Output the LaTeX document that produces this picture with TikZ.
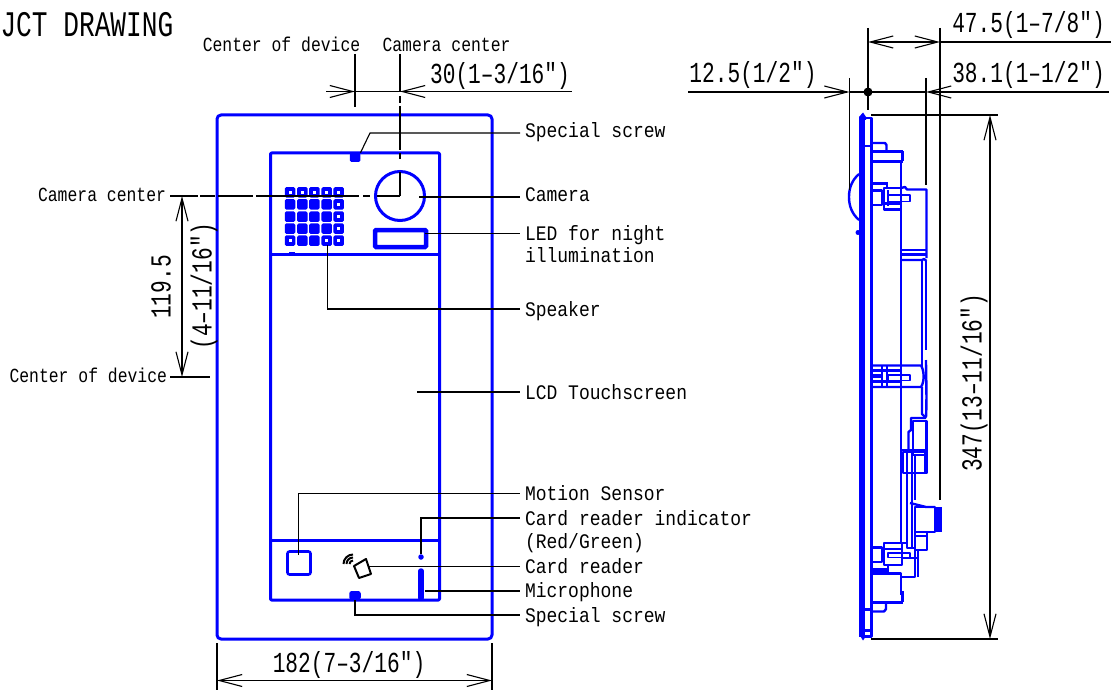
\documentclass[tikz,border=0pt]{standalone}
\usepackage{fontspec}
\usepackage{xcolor}
\usetikzlibrary{arrows.meta,calc}

\newfontfamily\smallgothic[FakeStretch=0.82]{Liberation Mono}
\newfontfamily\partgothic[FakeStretch=0.87]{Liberation Mono}
\newfontfamily\dimgothic[FakeStretch=0.73]{Liberation Mono}
\newfontfamily\titlegothic[FakeStretch=0.727]{Liberation Mono}

\definecolor{devblue}{RGB}{0,0,255}

\tikzset{
	shell/.style={draw=devblue,line width=3pt,line join=round},
	side/.style={draw=devblue,line width=2.4pt,line join=round},
	sidethick/.style={draw=devblue,line width=3.6pt,line join=round},
	leader/.style={draw=black,line width=1.1pt},
	dimline/.style={draw=black,line width=1.1pt,>={Straight Barb[length=23pt,width=12pt,line width=1.1pt]}},
	partname/.style={font=\fontsize{20.7pt}{20.7pt}\partgothic,inner sep=0pt,outer xsep=5pt,anchor=west,text height=14pt,text depth=0pt},
	refname/.style={font=\fontsize{20pt}{20pt}\smallgothic,inner sep=0pt,text height=13pt,text depth=0pt},
	dimtext/.style={font=\fontsize{29pt}{29pt}\dimgothic,inner sep=0pt,text height=19pt,text depth=0pt},
	grille/.style={rectangle,rounded corners=1.5pt,fill=devblue,inner sep=0pt,minimum size=10.5pt},
	grillehole/.style={rectangle,fill=white,inner sep=0pt,minimum size=3pt},
}

\begin{document}
\begin{tikzpicture}[x=1pt,y=-1pt]

\useasboundingbox (0,0) rectangle (1111,690);
\fill[white] (0,0) rectangle (1111,690);

\node[font=\fontsize{36pt}{36pt}\titlegothic,inner sep=0pt,anchor=east,text height=25pt,text depth=0pt] (title) at (173.5,24) {JCT DRAWING};

% front view
\draw[shell,rounded corners=4pt] (217,115) rectangle (492,639);
\draw[shell,rounded corners=1pt] (270.5,153) rectangle (439.5,600);
\draw[shell] (270.5,254) -- (439.5,254);
\draw[shell] (270.5,540) -- (439.5,540);
\draw[shell,line width=1.8pt] (289,253) -- (295,253);

\node[circle,draw=devblue,line width=3pt,inner sep=0pt,minimum size=49pt] (camera) at (400,196) {};
\node[rectangle,draw=devblue,line width=4.5pt,rounded corners=1pt,inner sep=0pt,minimum width=51pt,minimum height=17pt] (led) at (400.5,238.5) {};
\node[rectangle,fill=devblue,rounded corners=1.5pt,inner sep=0pt,minimum width=10.5pt,minimum height=9pt] (screwtop) at (355,157.5) {};
\node[rectangle,fill=devblue,rounded corners=2.5pt,inner sep=0pt,minimum width=11.5pt,minimum height=9pt] (screwbot) at (355,595.5) {};
\node[rectangle,draw=devblue,line width=2.6pt,rounded corners=2pt,inner sep=0pt,minimum size=23pt] (sensor) at (299,563) {};
\node[circle,fill=devblue,inner sep=0pt,minimum size=5.5pt] (indicator) at (421,557) {};
\draw[devblue,line width=5.5pt,line cap=round] (421,571) -- (421,598);

\foreach \x in {290,302.3,314.3,326.7,338.7}
{
	\foreach \y in {192.3,204.3,216.7,228.7,240.7}
	{
		\node[grille] at (\x,\y) {};
	}
}
\foreach \x/\y in {290/192.3,302.3/192.3,314.3/192.3,326.7/192.3,338.7/192.3,338.7/204.3,338.7/216.7,338.7/228.7,290/240.7,326.7/240.7,338.7/240.7}
{
	\node[grillehole] at (\x,\y) {};
}

% card reader
\draw[black,line width=2pt,line join=round] (354,566) -- (366,559) -- (371,574) -- (359,578) -- cycle;
\foreach \r in {3.5,6.5,9.5}
{
	\draw[black,line width=2pt] (353-\r,564) .. controls (353-\r,564-0.55*\r) and (353-0.55*\r,564-\r) .. (353,564-\r);
}

% names of the parts
\node[partname] (lblscrewtop) at (520,131) {Special screw};
\node[partname] (lblcamera) at (520,194) {Camera};
\node[partname] (lblled) at (520,233) {LED for night};
\node[partname] (lblled2) at (520,255) {illumination};
\node[partname] (lblspeaker) at (520,309) {Speaker};
\node[partname] (lbllcd) at (520,392) {LCD Touchscreen};
\node[partname] (lblsensor) at (520,493.5) {Motion Sensor};
\node[partname] (lblindicator) at (520,518) {Card reader indicator};
\node[partname] (lblindicator2) at (520,541) {(Red/Green)};
\node[partname] (lblreader) at (520,566) {Card reader};
\node[partname] (lblmic) at (520,590) {Microphone};
\node[partname] (lblscrewbot) at (520,615) {Special screw};

\coordinate (kneetop) at (370,133);
\coordinate (camright) at (419,197);
\coordinate (ledright) at (425,233.5);
\coordinate (speakerpt) at (327.5,245);
\coordinate (lcdpt) at (417,392);
\coordinate (sensorpt) at (298.5,555);
\coordinate (readerpt) at (368,566.5);
\coordinate (micpt) at (425,591);

\draw[leader] (screwtop.north east) -- (kneetop) -- (kneetop -| lblscrewtop.west);
\draw[leader] (camright) -- (camright -| lblcamera.west);
\draw[leader] (ledright) -- (ledright -| lblled.west);
\draw[leader] (speakerpt) |- (lblspeaker.west);
\draw[leader] (lcdpt) -- (lbllcd.west);
\draw[leader] (sensorpt) |- (lblsensor.west);
\draw[leader] (indicator) |- (lblindicator.west);
\draw[leader] (readerpt) -- (readerpt -| lblreader.west);
\draw[leader] (micpt) -- (micpt -| lblmic.west);
\draw[leader] (screwbot) |- (lblscrewbot.west);

% centre lines
\node[refname,anchor=east,outer xsep=4pt] (lblcamleft) at (170,195) {Camera center};
\node[refname,anchor=east,outer xsep=3pt] (lbldevleft) at (170,376) {Center of device};
\node[refname] (lbldevtop) at (281.5,45) {Center of device};
\node[refname] (lblcamtop) at (446.5,45) {Camera center};

\coordinate (camleftA) at (198,196);
\coordinate (camleftB) at (400,196);
\coordinate (devleftA) at (210,377);
\coordinate (camtopA) at (400,54);
\coordinate (camtopB) at (400,92);
\coordinate (devtopA) at (355,54);
\coordinate (devtopB) at (355,107);

\draw[leader] (camleftA -| lblcamleft.east) -- (camleftA);
\draw[leader,dash pattern=on 0pt off 2pt on 15pt off 3pt on 35pt off 3pt on 103pt off 4pt on 7pt off 7pt on 23pt off 10pt] (camleftA) -- (camleftB);
\draw[leader] (devleftA -| lbldevleft.east) -- (devleftA);
\draw[leader] (camtopA) -- (camtopB);
\draw[leader,dash pattern=on 0pt off 4pt on 7pt off 3pt on 44pt off 3pt on 6pt off 13pt on 24pt off 10pt] (camtopB) -- (camleftB);
\draw[leader] (devtopA) -- (devtopB);

% 119.5 dimension
\coordinate (vdimA) at (182,196);
\coordinate (vdimB) at (182,377);
\draw[dimline,<->] (vdimA) -- (vdimB);
\node[dimtext,rotate=90] (txtmm) at (161,287) {119.5};
\node[dimtext,rotate=90] (txtin) at (202,286) {(4–11/16″)};

% 30 dimension
\coordinate (hdimL) at (326,91.5);
\coordinate (hdimC) at (355,91.5);
\coordinate (hdimD) at (400,91.5);
\coordinate (hdimR) at (572,91.5);
\draw[dimline,->] (hdimL) -- (hdimC);
\draw[dimline] (hdimC) -- (hdimD);
\draw[dimline,<-] (hdimD) -- (hdimR);
\node[dimtext] (txtoffset) at (500,74) {30(1–3/16″)};

% 182 dimension
\coordinate (wextL) at (217,643);
\coordinate (wextLb) at (217,690);
\coordinate (wextR) at (492,643);
\coordinate (wextRb) at (492,690);
\coordinate (wdimL) at (217,680.5);
\coordinate (wdimR) at (492,680.5);
\draw[leader] (wextL) -- (wextLb);
\draw[leader] (wextR) -- (wextRb);
\draw[dimline,<->] (wdimL) -- (wdimR);
\node[dimtext] (txtwidth) at (349,663) {182(7–3/16″)};

% side view, plate
\draw[side,line width=6pt] (862,117) -- (862,637);
\fill[devblue] (859,117) -- (863,112.5) -- (866,117) -- (866,120) -- (859,120) -- cycle;
\fill[devblue] (859,634) -- (863,640.5) -- (866,636) -- cycle;
\draw[side] (863,118) -- (871.5,118) -- (871.5,636.5) -- (863,636.5);
\draw[side] (865,630.5) -- (871.5,630.5);
\draw[side] (865,609.5) -- (871.5,609.5);
\draw[side] (859,174) .. controls (852,180) and (849,188) .. (849,197) .. controls (849,206) and (852,214) .. (859,220);
\fill[devblue] (858,232.5) circle (2.5pt);
\draw[side] (865,146) -- (871.5,146);

% side view, upper part
\draw[side] (871.5,143) -- (885,143) -- (886.5,145) -- (886.5,151);
\draw[side] (871.5,151.5) -- (902.5,151.5);
\draw[sidethick] (873,161.5) -- (902.5,161.5);
\draw[sidethick] (902.5,151.5) -- (902.5,161.5);
\draw[side] (901,162) -- (901,543);
\draw[sidethick] (871.5,183.5) -- (887,183.5);
\draw[side] (871.5,190.5) -- (882,190.5) -- (882,205) -- (871.5,205);
\draw[side] (887,182) -- (887,189);
\draw[side] (884,188) rectangle (901,209.5);
\draw[side] (884,203.5) -- (901,203.5);
\draw[side,line width=1.8pt] (888,195) rectangle (910,201.5);
\draw[side] (888,190) -- (888,206);
\draw[side] (901,188) -- (905,187) -- (907,189.5) -- (926.5,189.5) -- (926.5,258);
\draw[side] (901,250) -- (926.5,250);
\draw[side] (901,254.5) -- (926.5,254.5);
\draw[side] (901,260) -- (922,260) -- (924,259) -- (926.5,261);
\draw[side] (922,260) -- (922,366);
\draw[side] (926,261) -- (926,330);

% side view, middle part
\draw[side] (871.5,365.5) -- (921,365.5) .. controls (924,370) and (925,381) .. (921,387) -- (871.5,387);
\draw[side] (871.5,370.5) -- (901,370.5);
\draw[side] (871.5,381.5) -- (901,381.5);
\draw[sidethick] (871.5,376) -- (882,376);
\draw[side,line width=1.8pt] (888,375) rectangle (910,380.5);
\draw[side] (882,366) -- (882,387);
\draw[side] (887,366) -- (887,387);
\draw[side] (922,387) -- (922,414) -- (926,418);
\draw[side] (926,330) -- (926,350);
\draw[side] (926,360) .. controls (926,372) and (927,400) .. (926,417);

% side view, lower part
\draw[side] (926,418) -- (911,418) -- (911,430) -- (908.5,432) -- (908.5,450);
\draw[side] (913,421) rectangle (926.5,455);
\draw[side] (901,450) -- (927,450);
\draw[side] (903,452) rectangle (927,473);
\draw[side] (907,452) -- (907,500);
\draw[side] (912,452) -- (912,500);
\draw[side] (915,455) -- (915,473);
\draw[side] (925,452) -- (925,473);
\draw[side] (907,473) -- (927,473);
\draw[side] (912,473) -- (912,503);
\draw[side] (915,473) -- (915,500);
\draw[side] (907,500) -- (907,548) -- (915,548);
\draw[side] (912,503) -- (912,548);
\draw[side] (910,503) -- (926,507) -- (935,507);
\draw[side] (915,507) rectangle (935,532);
\fill[devblue] (934,507) rectangle (942,532);
\draw[side] (915,532) rectangle (927,550);
\draw[side] (915,536) -- (927,536);
\draw[side] (915,550) -- (915,577) -- (902,577);
\draw[side] (918,550) -- (918,577);
\draw[side] (902,558) -- (918,558);
\draw[side] (884,543) -- (907,543);
\draw[side] (884,543) rectangle (902,565);
\draw[side] (884,549) -- (902,549);
\draw[side,line width=1.8pt] (888,553) rectangle (910,557.5);
\draw[side] (871.5,547.5) -- (882,547.5) -- (882,562) -- (871.5,562);
\draw[sidethick] (871.5,570) -- (888,570);
\draw[side] (888,564) -- (888,572);
\draw[side] (871.5,573.5) -- (901,573.5) -- (901,595);
\draw[sidethick] (873,602.5) -- (903,602.5);
\draw[sidethick] (902.5,591) -- (902.5,602);
\draw[side] (886,603) -- (886,609) -- (884,611.5) -- (871.5,611.5);

% side view, dimensions
\coordinate (extfrontA) at (868,28);
\coordinate (extfrontB) at (868,110);
\coordinate (extbackA) at (940,28);
\coordinate (extbackB) at (940,500);
\coordinate (extplateA) at (849.5,78);
\coordinate (extplateB) at (849.5,190);
\coordinate (extboxA) at (926,78);
\coordinate (extboxB) at (926,185);
\draw[leader] (extfrontA) -- (extfrontB);
\draw[leader] (extbackA) -- (extbackB);
\draw[leader] (extplateA) -- (extplateB);
\draw[leader] (extboxA) -- (extboxB);

\coordinate (topdimA) at (868,42);
\coordinate (topdimB) at (940,42);
\coordinate (topdimC) at (1111,42);
\draw[dimline,<->] (topdimA) -- (topdimB);
\draw[dimline] (topdimB) -- (topdimC);
\node[dimtext] (txtdepth) at (1028.5,23) {47.5(1–7/8″)};

\coordinate (middimA) at (688,92);
\coordinate (middimB) at (849.5,92);
\coordinate (middimC) at (926,92);
\coordinate (middimD) at (1109,92);
\node[circle,fill=black,inner sep=0pt,minimum size=9pt] (refdot) at (868,92) {};
\draw[dimline,->] (middimA) -- (middimB);
\draw[dimline] (middimB) -- (middimC);
\draw[dimline,<-] (middimC) -- (middimD);
\node[dimtext] (txtdome) at (753,73) {12.5(1/2″)};
\node[dimtext] (txtbody) at (1028.5,73) {38.1(1–1/2″)};

\coordinate (htopA) at (871,115);
\coordinate (htopB) at (998,115);
\coordinate (hbotA) at (871,639);
\coordinate (hbotB) at (998,639);
\coordinate (hdimT) at (990,115);
\coordinate (hdimE) at (990,639);
\draw[leader] (htopA) -- (htopB);
\draw[leader] (hbotA) -- (hbotB);
\draw[dimline,<->] (hdimT) -- (hdimE);
\node[dimtext,rotate=90] (txtheight) at (972,383) {347(13–11/16″)};

\end{tikzpicture}
\end{document}
